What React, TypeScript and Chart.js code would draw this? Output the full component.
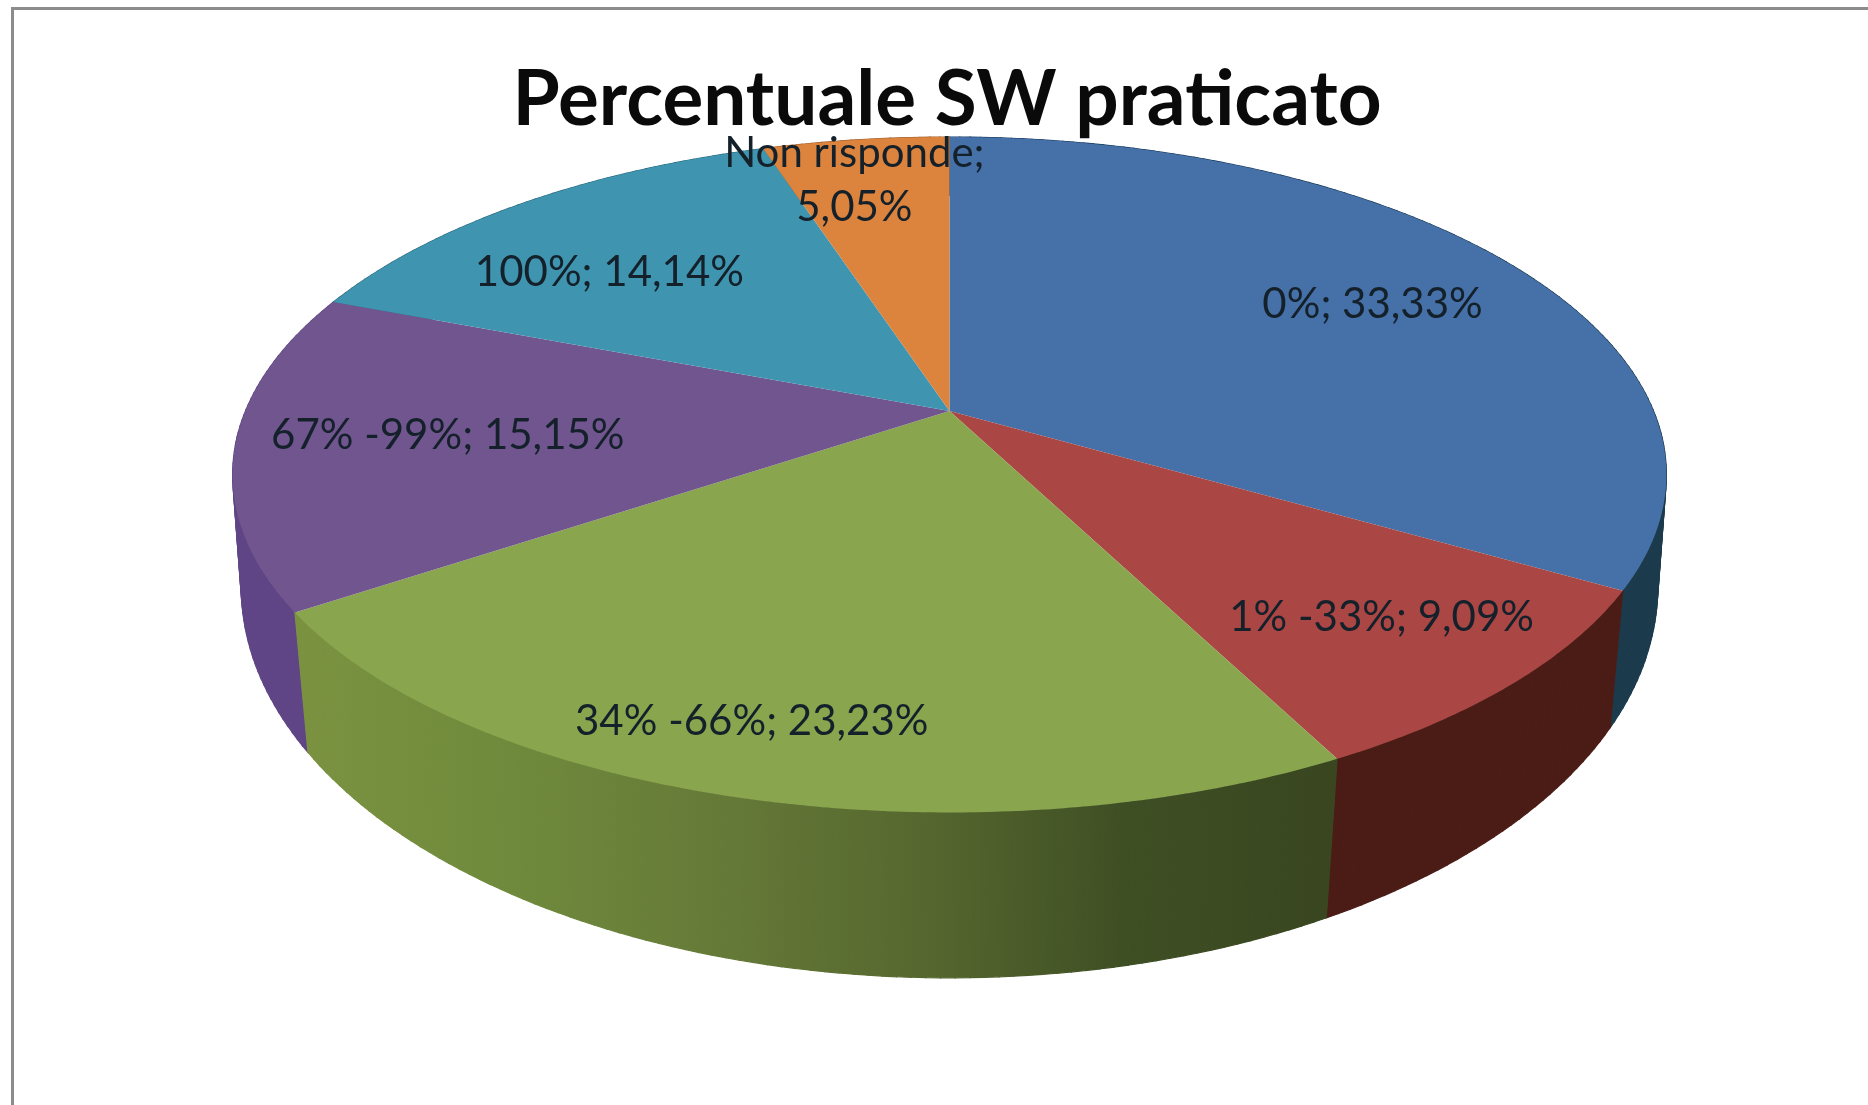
import React, { useEffect, useRef } from "react";
import { Chart, registerables } from "chart.js";

Chart.register(...registerables);

const titleText = "Percentuale SW praticato";
const categories = ["0%", "1% -33%", "34% -66%", "67% -99%", "100%", "Non risponde"];
const shares = [33.33, 9.09, 23.23, 15.15, 14.14, 5.05];
const topColours = ["#4571A8", "#AA4644", "#89A54E", "#70558F", "#3F95B0", "#DC843D"];
const wallColours = [
  ["#163a66", "#1b3a4c"],
  ["#4a1c15", "#4a1c15"],
  ["#7a9240", "#6f8a3c", "#667a38", "#56682f", "#3f4f24", "#394620"],
  ["#5f4585", "#5f4585"],
  ["#2c6a80", "#2c6a80"],
  ["#9c5d2b", "#9c5d2b"],
];
// label placement in the pie's own plane: fraction of radius, degrees off the slice's mid-angle
const labelRadius = [0.735, 0.784, 0.837, 0.707, 0.709, 0.842];
const labelTurn = [0.8, -0.8, 2, 1.2, -4.3, -1.6];

const CX_SHIFT = 2.5;
const LABEL_DROP = 3;
const TOP_FACE = { R: 704, B: 325.7, y0: 411, k: 0.1887 };
const BOTTOM_RIM = { R: 698, B: 380, y0: 520, k: 0.17 };

type Plane = { R: number; B: number; y0: number; k: number };
const project = (p: Plane, cx: number, a: number, r = 1) => {
  const u = r * Math.cos(a);
  const v = r * Math.sin(a);
  const w = 1 - p.k * v;
  return { x: cx + (p.R * u) / w, y: p.y0 + (p.B * v) / w };
};

const pie3d = {
  id: "pie3d",
  beforeDatasetDraw(chart: any) {
    const { ctx } = chart;
    const arcs = chart.getDatasetMeta(0).data;
    const order = arcs
      .map((_: any, i: number) => i)
      .sort(
        (a: number, b: number) =>
          Math.sin((arcs[a].startAngle + arcs[a].endAngle) / 2) -
          Math.sin((arcs[b].startAngle + arcs[b].endAngle) / 2)
      );
    ctx.save();
    for (const i of order) {
      const arc = arcs[i];
      const cx = arc.x + CX_SHIFT;
      const a0 = arc.startAngle;
      const a1 = arc.endAngle;
      const x0 = project(BOTTOM_RIM, cx, a0).x;
      const x1 = project(BOTTOM_RIM, cx, a1).x;
      const grad = ctx.createLinearGradient(Math.min(x0, x1), 0, Math.max(x0, x1), 0);
      const stops = wallColours[i];
      stops.forEach((c, n) => grad.addColorStop(n / (stops.length - 1), c));
      ctx.fillStyle = grad;
      ctx.strokeStyle = grad;
      ctx.lineWidth = 1.2;
      const steps = Math.max(2, Math.ceil(((a1 - a0) * 180) / Math.PI));
      for (let s = 0; s < steps; s++) {
        const b0 = a0 + ((a1 - a0) * s) / steps;
        const b1 = a0 + ((a1 - a0) * (s + 1)) / steps;
        const p = [
          project(TOP_FACE, cx, b0),
          project(TOP_FACE, cx, b1),
          project(BOTTOM_RIM, cx, b1),
          project(BOTTOM_RIM, cx, b0),
        ];
        ctx.beginPath();
        p.forEach((q, n) => (n ? ctx.lineTo(q.x, q.y) : ctx.moveTo(q.x, q.y)));
        ctx.closePath();
        ctx.fill();
        ctx.stroke();
      }
    }
    arcs.forEach((arc: any, i: number) => {
      const cx = arc.x + CX_SHIFT;
      const a0 = arc.startAngle;
      const a1 = arc.endAngle;
      ctx.beginPath();
      const apex = project(TOP_FACE, cx, 0, 0);
      ctx.moveTo(apex.x, apex.y);
      const steps = Math.ceil(((a1 - a0) * 180) / Math.PI) * 2;
      for (let s = 0; s <= steps; s++) {
        const q = project(TOP_FACE, cx, a0 + ((a1 - a0) * s) / steps);
        ctx.lineTo(q.x, q.y);
      }
      ctx.closePath();
      ctx.fillStyle = topColours[i];
      ctx.fill();
    });
    ctx.restore();
    return false;
  },
  afterDatasetsDraw(chart: any) {
    const { ctx } = chart;
    const arcs = chart.getDatasetMeta(0).data;
    ctx.save();
    ctx.font = "42px Lato";
    ctx.fillStyle = "#14202a";
    ctx.textAlign = "center";
    ctx.textBaseline = "middle";
    arcs.forEach((arc: any, i: number) => {
      const mid = (arc.startAngle + arc.endAngle) / 2 + (labelTurn[i] * Math.PI) / 180;
      const p = project(TOP_FACE, arc.x + CX_SHIFT, mid, labelRadius[i]);
      const y = p.y + LABEL_DROP;
      const value = shares[i].toFixed(2).replace(".", ",") + "%";
      if (i === shares.length - 1) {
        ctx.fillText(categories[i] + ";", p.x, y - 27);
        ctx.fillText(value, p.x, y + 27);
      } else {
        ctx.fillText(categories[i] + "; " + value, p.x, y);
      }
    });
    ctx.restore();
  },
};

export default function App() {
  const ref = useRef<HTMLCanvasElement>(null);
  useEffect(() => {
    const chart = new Chart(ref.current as HTMLCanvasElement, {
      type: "pie",
      data: {
        labels: categories,
        datasets: [{ data: shares, backgroundColor: topColours, borderWidth: 0 }],
      },
      options: {
        animation: false,
        responsive: false,
        layout: { padding: { left: 26, top: 0, right: 0, bottom: 0 } },
        plugins: {
          legend: { display: false },
          tooltip: { enabled: false },
          title: {
            display: true,
            text: titleText,
            color: "#0a0a0a",
            font: { family: "Lato", size: 76.5, weight: "bold" },
            padding: { top: 54, bottom: 0 },
          },
        },
      },
      plugins: [pie3d],
    } as any);
    return () => chart.destroy();
  }, []);
  return (
    <div style={{ position: "fixed", left: 0, top: 0, width: 1868, height: 1105, background: "#fff" }}>
      <canvas ref={ref} width={1868} height={1105} />
      <div
        style={{
          position: "absolute",
          left: 11,
          top: 7,
          right: 0,
          bottom: 0,
          borderTop: "3px solid #8c8c8c",
          borderLeft: "3px solid #8c8c8c",
          pointerEvents: "none",
        }}
      />
    </div>
  );
}
